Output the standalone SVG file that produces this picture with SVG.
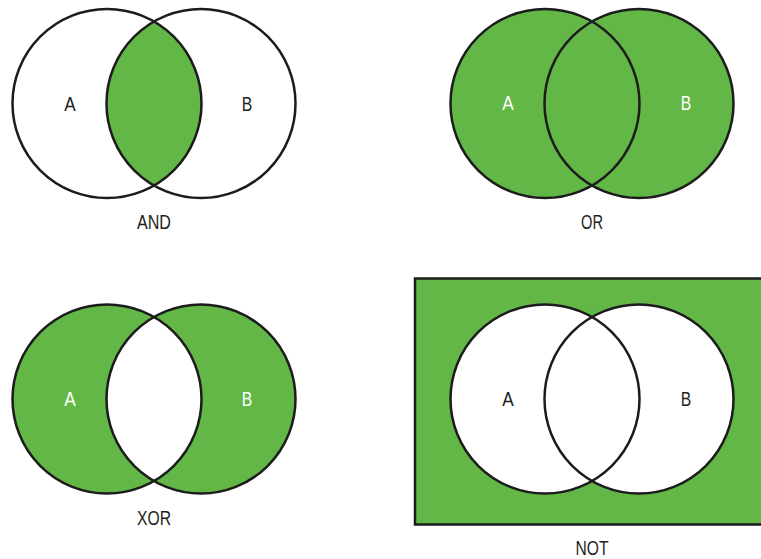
<svg xmlns="http://www.w3.org/2000/svg" width="761" height="559" viewBox="0 0 761 559">
<style>
.ln{fill:none;stroke:#1c1c1c;stroke-width:2.5}
.g{fill:#62b746}
.w{fill:#ffffff}
text{font-family:"Liberation Sans",Arial,sans-serif;font-size:20.5px;text-anchor:middle}
.dk{fill:#231f20}
.lt{fill:#ffffff}
</style>
<rect width="761" height="559" fill="#ffffff"/>
<g id="and">
<path class="g" d="M154,21.5 A94.5,94.5 0 0 1 154,185.5 A94.5,94.5 0 0 1 154,21.5 Z"/>
<circle class="ln" cx="107" cy="103.5" r="94.5"/>
<circle class="ln" cx="201" cy="103.5" r="94.5"/>
<text class="dk" x="70" y="111" textLength="11.5" lengthAdjust="spacingAndGlyphs">A</text>
<text class="dk" x="247" y="111" textLength="10.5" lengthAdjust="spacingAndGlyphs">B</text>
<text class="dk" x="154" y="229" textLength="34" lengthAdjust="spacingAndGlyphs">AND</text>
</g>
<g id="or">
<circle class="g" cx="545" cy="103.5" r="94.5"/>
<circle class="g" cx="639" cy="103.5" r="94.5"/>
<circle class="ln" cx="545" cy="103.5" r="94.5"/>
<circle class="ln" cx="639" cy="103.5" r="94.5"/>
<text class="lt" x="508" y="110" textLength="11.5" lengthAdjust="spacingAndGlyphs">A</text>
<text class="lt" x="686" y="110" textLength="10.5" lengthAdjust="spacingAndGlyphs">B</text>
<text class="dk" x="592" y="229" textLength="22" lengthAdjust="spacingAndGlyphs">OR</text>
</g>
<g id="xor">
<circle class="g" cx="107" cy="399" r="94.5"/>
<circle class="g" cx="201" cy="399" r="94.5"/>
<path class="w" d="M154,317 A94.5,94.5 0 0 1 154,481 A94.5,94.5 0 0 1 154,317 Z"/>
<circle class="ln" cx="107" cy="399" r="94.5"/>
<circle class="ln" cx="201" cy="399" r="94.5"/>
<text class="lt" x="70" y="406" textLength="11.5" lengthAdjust="spacingAndGlyphs">A</text>
<text class="lt" x="247" y="406" textLength="10.5" lengthAdjust="spacingAndGlyphs">B</text>
<text class="dk" x="154" y="525" textLength="34" lengthAdjust="spacingAndGlyphs">XOR</text>
</g>
<g id="not">
<rect class="g" x="415" y="278.5" width="350" height="246" stroke="#1c1c1c" stroke-width="2.5"/>
<circle class="w" cx="545" cy="399" r="94.5"/>
<circle class="w" cx="639" cy="399" r="94.5"/>
<circle class="ln" cx="545" cy="399" r="94.5"/>
<circle class="ln" cx="639" cy="399" r="94.5"/>
<text class="dk" x="508" y="406" textLength="11.5" lengthAdjust="spacingAndGlyphs">A</text>
<text class="dk" x="686" y="406" textLength="10.5" lengthAdjust="spacingAndGlyphs">B</text>
<text class="dk" x="592" y="555" textLength="33" lengthAdjust="spacingAndGlyphs">NOT</text>
</g>
<g id="connectors"></g>
</svg>
